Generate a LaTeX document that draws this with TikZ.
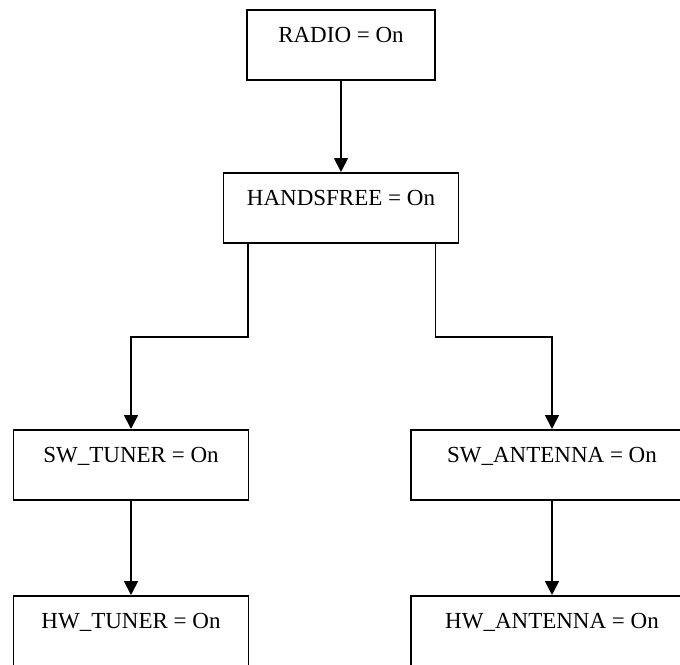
\documentclass[tikz,border=0pt]{standalone}
\usepackage{fontspec}
\setmainfont{Liberation Serif}
\usetikzlibrary{positioning, arrows.meta, calc}
\tikzset{
  statebox/.style={rectangle, anchor=north, draw=black, line width=0.9pt, inner sep=0pt, minimum height=35pt, text height=16.3pt, text depth=18.7pt, font=\fontsize{11.5}{14}\selectfont},
  arrow/.style={line width=0.9pt, -{Triangle[length=7pt, width=7pt]}}
}
\begin{document}
\begin{tikzpicture}[x=0.5pt, y=-0.5pt]
        \useasboundingbox (0,0) rectangle (680,664);
        \clip (0,0) rectangle (680,664);
        \node (radio) [statebox, minimum width=94pt] at (341,9) {RADIO = On};
        \node (handsfree) [statebox, minimum width=117.5pt] at (341,172) {HANDSFREE = On};
        \node (swtuner) [statebox, minimum width=117.5pt] at (131,429) {SW\_TUNER = On};
        \node (hwtuner) [statebox, minimum width=117.5pt] at (131,595) {HW\_TUNER = On};
        \node (swantenna) [statebox, minimum width=141pt] at (552,429) {SW\_ANTENNA = On};
        \node (hwantenna) [statebox, minimum width=141pt] at (552,595) {HW\_ANTENNA = On};

        \draw [arrow] (radio) -- (handsfree);

        % ramas desde HANDSFREE
        \draw [arrow] ([xshift=12.5pt]handsfree.south west) -- ++(0,93) -| (swtuner.north);
        \draw [arrow] ([xshift=-12pt]handsfree.south east) -- ++(0,93) -| (swantenna.north);

        \draw [arrow] (swtuner) -- (hwtuner);
        \draw [arrow] (swantenna) -- (hwantenna);
    \end{tikzpicture}
\end{document}
